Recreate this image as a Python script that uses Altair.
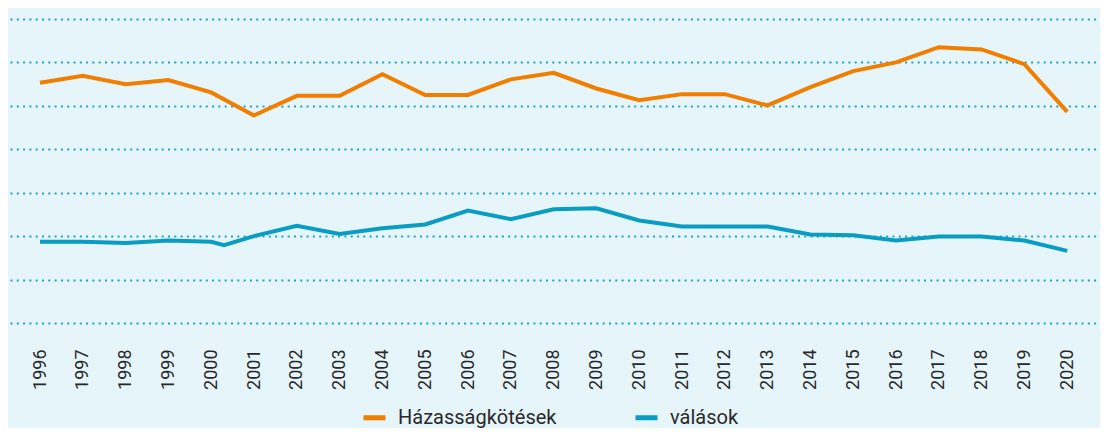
import altair as alt
import pandas as pd

years = list(range(1996, 2021))
marriage_series = "Házasságkötések"
divorce_series = "válások"

marriages = [55300, 56900, 55000, 55950, 53100, 47800, 52300, 52300, 57300,
             52500, 52500, 56100, 57600, 54000, 51300, 52700, 52700, 50100,
             54300, 58000, 60000, 63500, 63000, 59600, 48600]

divorce_years = [1996, 1997, 1998, 1999, 2000, 2000.3, 2001, 2002, 2003, 2004,
                 2005, 2006, 2007, 2008, 2009, 2010, 2011, 2012, 2013, 2014,
                 2015, 2016, 2017, 2018, 2019, 2020]
divorces = [18700, 18700, 18400, 19000, 18700, 17900, 20000, 22400, 20500, 21800,
            22700, 25900, 23900, 26200, 26400, 23600, 22200, 22200, 22200, 20400,
            20200, 19000, 19900, 19900, 19000, 16600]

grid_values = [0, 10000, 20000, 30000, 40000, 50000, 60000, 70000]

df = pd.concat([
    pd.DataFrame({"ev": years, "ertek": marriages, "sor": marriage_series}),
    pd.DataFrame({"ev": divorce_years, "ertek": divorces, "sor": divorce_series}),
], ignore_index=True)

BG = "#e6f5fa"

chart = alt.Chart(df).mark_line(strokeWidth=4, strokeJoin="miter").encode(
    x=alt.X("ev:Q",
            scale=alt.Scale(domain=[1995.299, 2020.766], nice=False, zero=False),
            axis=alt.Axis(values=years, format="d", labelAngle=270, grid=False,
                          ticks=False, domain=False, labelPadding=26,
                          labelFont="Roboto", labelFontSize=18,
                          labelColor="#2a2a2a", title=None, labelFlush=False,
                          labelOverlap=False)),
    y=alt.Y("ertek:Q",
            scale=alt.Scale(domain=[0, 70000], nice=False),
            axis=alt.Axis(values=grid_values, labels=False, ticks=False, domain=False,
                          grid=True, gridColor="#19a3cc", gridWidth=2,
                          gridDash=[2, 4.3], title=None)),
    color=alt.Color("sor:N",
                    scale=alt.Scale(domain=[marriage_series, divorce_series],
                                    range=["#f27e00", "#0a9dc2"]),
                    legend=alt.Legend(title=None, orient="none", direction="horizontal",
                                      legendX=351, legendY=385, symbolType="stroke",
                                      symbolStrokeWidth=5, symbolSize=484,
                                      labelFont="Roboto", labelFontSize=20,
                                      labelColor="#2a2a2a", labelOffset=10,
                                      columnPadding=68, padding=0)),
    detail="sor:N",
).properties(
    width=1090,
    height=304,
    background=BG,
    padding={"left": 2, "top": 11, "right": 0, "bottom": 105},
    autosize=alt.AutoSizeParams(type="none"),
).configure_view(stroke=None)

chart.save("out.html", embed_options={"renderer": "svg", "actions": False})
